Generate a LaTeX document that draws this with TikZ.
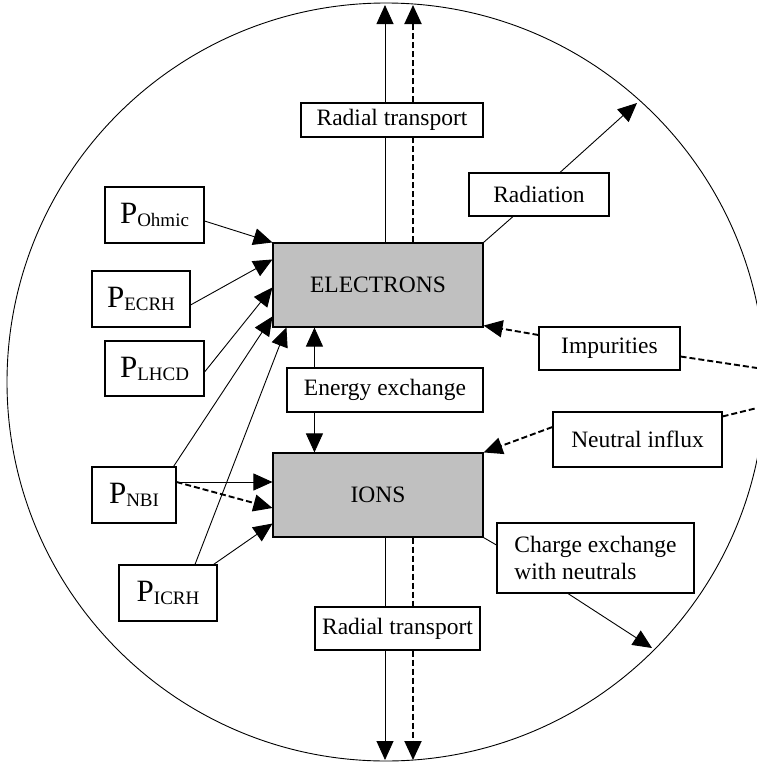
\documentclass[tikz,border=0pt]{standalone}
\usepackage{fontspec}
\setmainfont{Liberation Serif}
\usetikzlibrary{arrows.meta}

\definecolor{boxgray}{RGB}{192,192,192}
\newcommand{\psrc}[1]{{\fontsize{31}{32}\selectfont P}\raisebox{-3pt}{\fontsize{19}{20}\selectfont #1}}

\begin{document}
\begin{tikzpicture}[x=1pt, y=-1pt,
    box/.style={draw, line width=1.1pt, fill=white, inner sep=0pt, font=\fontsize{23.5}{27}\selectfont, align=center},
    species/.style={box, fill=boxgray},
    link/.style={line width=0.9pt},
    dlink/.style={line width=1.9pt, dash pattern=on 6pt off 3pt},
    flow/.style={link, -{Triangle[length=19pt,width=17pt]}},
    dflow/.style={dlink, -{Triangle[length=19pt,width=17pt]}}]

    \useasboundingbox (0,0) rectangle (757,763);

    % PLASMA BOUNDARY
    \draw[line width=0.9pt] (386,382) circle[radius=379];

    % ELECTRONS AND IONS
    \node[species, minimum width=210pt, minimum height=84pt] (electrons) at (378,285) {ELECTRONS};
    \node[species, minimum width=210pt, minimum height=84pt] (ions) at (378,495) {IONS};
    \node[box, minimum width=196pt, minimum height=44pt] (energy) at (385,390) {Energy exchange};

    % LOSS AND SOURCE BOXES
    \node[box, minimum width=182pt, minimum height=34pt] (radtop) at (392,120) {Radial transport};
    \node[box, minimum width=165pt, minimum height=43pt] (radbot) at (397.5,628.5) {Radial transport};
    \node[box, minimum width=140pt, minimum height=43pt] (radiation) at (539,194.5) {Radiation};
    \node[box, minimum width=141pt, minimum height=43pt] (impurities) at (609.5,348.5) {Impurities};
    \node[box, minimum width=169pt, minimum height=55pt] (neutral) at (637.5,439.5) {Neutral influx};
    \node[box, minimum width=197pt, minimum height=70pt, align=left] (charge) at (595.5,558) {Charge exchange\\with neutrals};

    % HEATING POWERS
    \node[box, minimum width=99pt, minimum height=56pt] (pohmic) at (154.5,215) {\psrc{Ohmic}};
    \node[box, minimum width=98pt, minimum height=56pt] (pecrh) at (141,299) {\psrc{ECRH}};
    \node[box, minimum width=99pt, minimum height=55pt] (plhcd) at (154.5,368.5) {\psrc{LHCD}};
    \node[box, minimum width=84pt, minimum height=56pt] (pnbi) at (134,495) {\psrc{NBI}};
    \node[box, minimum width=98pt, minimum height=56pt] (picrh) at (168,593) {\psrc{ICRH}};

    % POINTS ON THE BOUNDARY
    \coordinate (topA) at (385,5);
    \coordinate (topB) at (413,5);
    \coordinate (botA) at (385,760);
    \coordinate (botB) at (413,760);
    \coordinate (radout) at (637,103);
    \coordinate (cxout) at (652,648);
    \coordinate (impin) at (757,368);
    \coordinate (neuin) at (757,408);
    \coordinate (exA) at ([xshift=28pt]energy.north west);

    % RADIAL TRANSPORT (up and down)
    \draw[link] (topA |- electrons.north) -- (topA |- radtop.south);
    \draw[flow] (topA |- radtop.north) -- (topA);
    \draw[dlink] (topB |- electrons.north) -- (topB |- radtop.south);
    \draw[dflow] (topB |- radtop.north) -- (topB);
    \draw[link] (botA |- ions.south) -- (botA |- radbot.north);
    \draw[flow] (botA |- radbot.south) -- (botA);
    \draw[dlink] (botB |- ions.south) -- (botB |- radbot.north);
    \draw[dflow] (botB |- radbot.south) -- (botB);

    % ENERGY EXCHANGE
    \draw[flow] (exA) -- (exA |- electrons.south);
    \draw[flow] (exA |- energy.south) -- (exA |- ions.north);

    % RADIATION AND CHARGE EXCHANGE
    \draw[link] (electrons.north east) -- ([xshift=-26pt]radiation.south);
    \draw[flow] ([xshift=21pt]radiation.north) -- (radout);
    \draw[link] (ions.south east) -- ([yshift=13pt]charge.west);
    \draw[flow] ([xshift=-27.5pt]charge.south) -- (cxout);

    % IMPURITIES AND NEUTRALS
    \draw[dflow] ([yshift=13.5pt]impurities.west) -- ([yshift=2pt]electrons.south east);
    \draw[dlink] ([yshift=-8pt]impurities.east) -- (impin);
    \draw[dflow] ([yshift=12.5pt]neutral.west) -- (ions.north east);
    \draw[dlink] ([yshift=-5pt]neutral.north east) -- (neuin);

    % HEATING
    \draw[flow] ([yshift=-6pt]pohmic.east) -- (electrons.north west);
    \draw[flow] ([yshift=-6pt]pecrh.east) -- ([yshift=-17pt]electrons.north west);
    \draw[flow] ([yshift=-3.5pt]plhcd.east) -- ([yshift=-45pt]electrons.north west);
    \draw[flow] ([xshift=-3pt]pnbi.north east) -- ([yshift=-74pt]electrons.north west);
    \draw[flow] ([yshift=13pt]pnbi.east) -- ([yshift=13pt]ions.west);
    \draw[dflow] ([yshift=13pt]pnbi.east) -- ([yshift=-13pt]ions.west);
    \draw[flow] ([xshift=27pt]picrh.north) -- ([xshift=14pt]electrons.south west);
    \draw[flow] ([xshift=-4pt]picrh.north east) -- ([yshift=14pt]ions.south west);

\end{tikzpicture}
\end{document}
